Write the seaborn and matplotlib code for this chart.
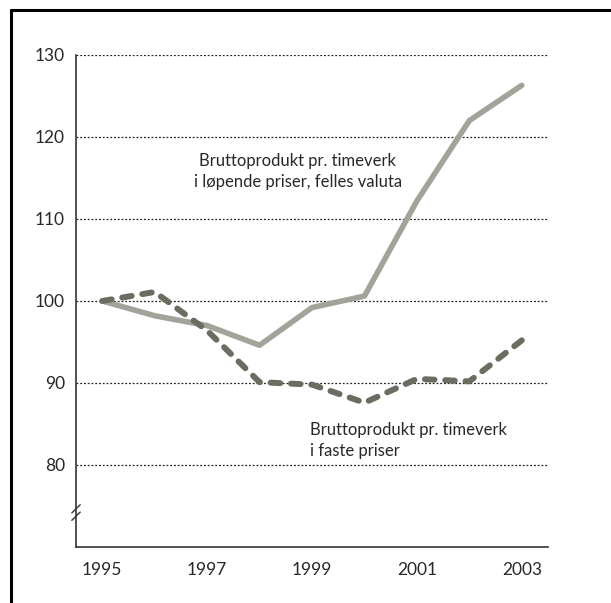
import pandas as pd
import seaborn as sns
import matplotlib.pyplot as plt
from matplotlib.lines import Line2D

years = [1995, 1996, 1997, 1998, 1999, 2000, 2001, 2002, 2003]
lopende = [100.0, 98.2, 97.0, 94.6, 99.2, 100.6, 112.2, 122.0, 126.3]
faste = [100.0, 101.1, 96.4, 90.1, 89.8, 87.6, 90.5, 90.2, 95.2]
yticks = [80, 90, 100, 110, 120, 130]
xticks = [1995, 1997, 1999, 2001, 2003]

df = pd.DataFrame({"aar": years, "lopende": lopende, "faste": faste})

sns.set_style("white")
plt.rcParams['font.family'] = ['Lato', 'DejaVu Sans']
tekst = "#2b2725"

fig = plt.figure(figsize=(6.11, 6.03), dpi=100)
ax = fig.add_axes([0.1244, 0.0929, 0.7725, 0.8159])

# grid lines
for y in yticks:
    ax.axhline(y, color="#222222", lw=0.9, ls=(0, (1.5, 1.5)), zorder=1)

sns.lineplot(data=df, x="aar", y="lopende", ax=ax, color="#a2a399", lw=4,
             solid_capstyle="round", zorder=3)
sns.lineplot(data=df, x="aar", y="faste", ax=ax, color="#6c6c60", lw=4.3,
             linestyle=(0, (1.6, 1.8)), dash_capstyle="round", zorder=4)

ax.set_xlim(1994.5, 2003.5)
ax.set_ylim(70, 130)
ax.set_xticks(years)
ax.set_xticklabels([str(y) if y in xticks else "" for y in years])
ax.set_yticks(yticks)
ax.set_xlabel("")
ax.set_ylabel("")
ax.tick_params(axis="x", direction="in", length=9, width=1, color="#333333",
               pad=11, labelsize=12.5, labelcolor=tekst)
ax.tick_params(axis="y", length=0, pad=8, labelsize=12.5, labelcolor=tekst)

for s in ["top", "right"]:
    ax.spines[s].set_visible(False)
for s in ["left", "bottom"]:
    ax.spines[s].set_color("#333333")
    ax.spines[s].set_linewidth(1.2)

# axis break marks
for dy in [-0.45, 0.45]:
    ax.plot([1994.42, 1994.58], [74.2 + dy - 0.5, 74.2 + dy + 0.5],
            color="#333333", lw=1, clip_on=False, zorder=5)

ax.text(1998.73, 115.8, "Bruttoprodukt pr. timeverk\ni løpende priser, felles valuta",
        ha="center", va="center", fontsize=12, color=tekst, linespacing=1.4)
ax.text(1998.96, 83.0, "Bruttoprodukt pr. timeverk\ni faste priser",
        ha="left", va="center", fontsize=12, color=tekst, linespacing=1.4)

# outer frame (left and top)
fig.add_artist(Line2D([0.018, 0.018], [0.0, 0.984], color="black", lw=2.2))
fig.add_artist(Line2D([0.018, 1.0], [0.984, 0.984], color="black", lw=2.2))

fig.savefig("out.png", dpi=100)
